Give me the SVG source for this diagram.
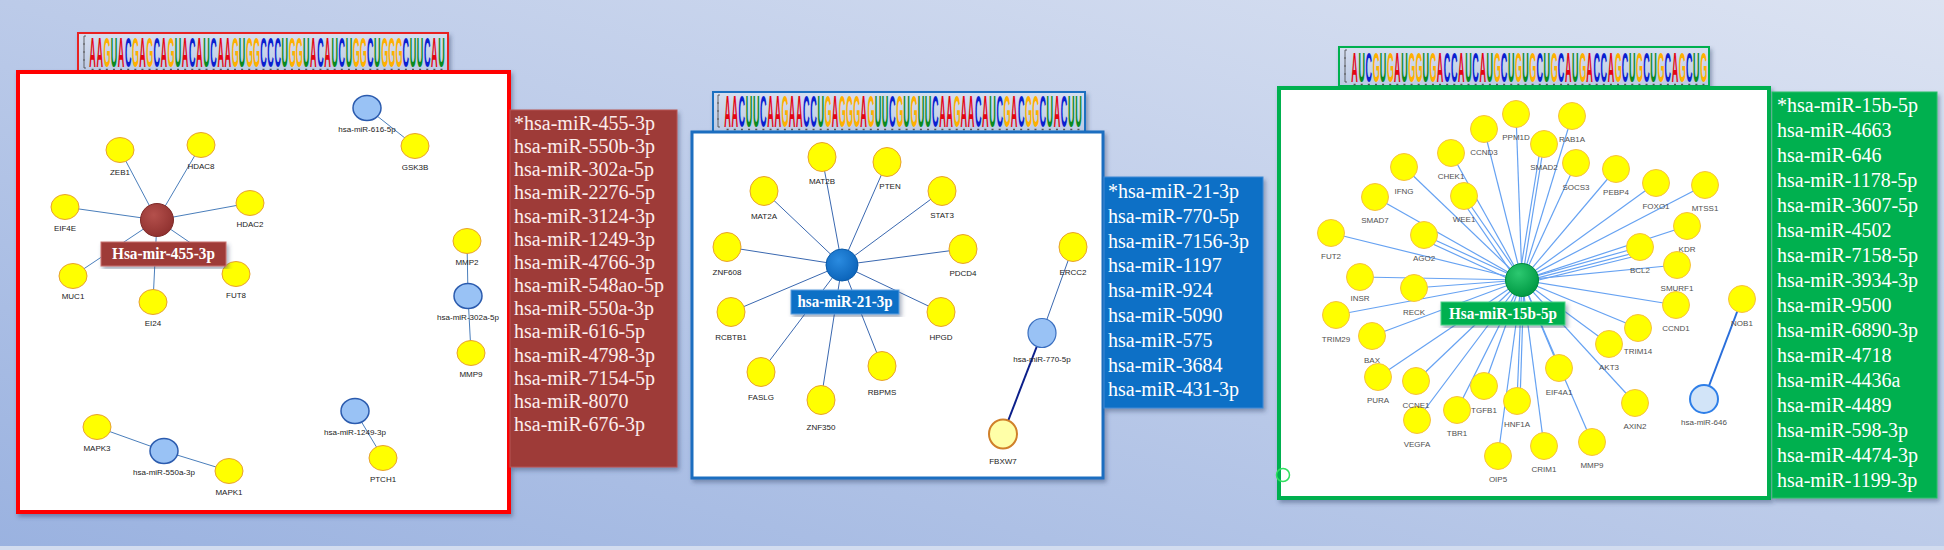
<svg xmlns="http://www.w3.org/2000/svg" width="1944" height="550" viewBox="0 0 1944 550">
<defs>
<linearGradient id="bg" x1="0" y1="1" x2="1" y2="0">
<stop offset="0" stop-color="#9AB2E0"/>
<stop offset="0.5" stop-color="#BCCBE9"/>
<stop offset="1" stop-color="#DCE3F2"/>
</linearGradient>
<linearGradient id="logobg" x1="0" y1="0" x2="0" y2="1">
<stop offset="0" stop-color="#D6DFF0"/>
<stop offset="1" stop-color="#BCCAE4"/>
</linearGradient>
<radialGradient id="gRed" cx="0.4" cy="0.35" r="0.7">
<stop offset="0" stop-color="#B4504C"/><stop offset="1" stop-color="#8E302E"/>
</radialGradient>
<radialGradient id="gBlue" cx="0.4" cy="0.35" r="0.7">
<stop offset="0" stop-color="#2A8BE0"/><stop offset="1" stop-color="#0A62B8"/>
</radialGradient>
<radialGradient id="gGreen" cx="0.4" cy="0.3" r="0.7">
<stop offset="0" stop-color="#2CC870"/><stop offset="1" stop-color="#009A44"/>
</radialGradient>
<filter id="sh" x="-5%" y="-5%" width="115%" height="115%">
<feDropShadow dx="2" dy="3" stdDeviation="2" flood-color="#34466A" flood-opacity="0.45"/>
</filter>
<style>
.nl{font-family:"Liberation Sans",Arial,sans-serif;font-size:8px;fill:#222;text-anchor:middle}
.ng{font-family:"Liberation Sans",Arial,sans-serif;font-size:8px;fill:#505050;text-anchor:middle}
.y{fill:#FFFF00;stroke:#E8A030;stroke-width:1}
.yg{fill:#FFFF00;stroke:#F7C040;stroke-width:1}
.mb{fill:#99C2F5;stroke:#2B5BAE;stroke-width:1.5}
.list{font-family:"Liberation Serif","Times New Roman",serif;font-size:20px;fill:#FFFFFF}
.lbl{font-family:"Liberation Serif","Times New Roman",serif;font-size:16px;font-weight:bold;fill:#FFFFFF;text-anchor:middle}
.er{stroke:#4A7EBB;stroke-width:1}
.eb{stroke:#3A68B0;stroke-width:1}
.eg{stroke:#66A2F2;stroke-width:1.2}
.logo{font-family:"Liberation Sans",Arial,sans-serif;font-weight:bold;font-size:14px}
.A{fill:#E30613}.C{fill:#0A1ED0}.G{fill:#FFB000}.U{fill:#0A8A1E}
.tick{stroke:#555;stroke-width:1.5}
.ax{fill:none;stroke:#444;stroke-width:0.8}
</style>
</defs>

<rect x="0" y="0" width="1944" height="550" fill="url(#bg)"/>
<rect x="0" y="546" width="1944" height="4" fill="#D2DCEF"/>

<!-- ============ PANEL 1 (red) ============ -->
<g id="logo1">
<rect x="78" y="33" width="370" height="39" fill="url(#logobg)" stroke="#E82020" stroke-width="2" filter="url(#sh)"/>
<path class="ax" d="M86 36 h-2 v32 h2 M83 44 h2 M83 52 h2 M83 60 h2"/>
<text class="logo" transform="translate(89.3,67) scale(0.6473,3)" y="0"><tspan class="A" x="0 11">AA</tspan><tspan class="G" x="22">G</tspan><tspan class="U" x="33">U</tspan><tspan class="A" x="44">A</tspan><tspan class="C" x="55">C</tspan><tspan class="G" x="66">G</tspan><tspan class="A" x="77">A</tspan><tspan class="G" x="88">G</tspan><tspan class="C" x="99">C</tspan><tspan class="A" x="110">A</tspan><tspan class="G" x="121">G</tspan><tspan class="U" x="132">U</tspan><tspan class="A" x="143">A</tspan><tspan class="C" x="154">C</tspan><tspan class="A" x="165">A</tspan><tspan class="U" x="176">U</tspan><tspan class="C" x="187">C</tspan><tspan class="A" x="198 209">AA</tspan><tspan class="G" x="220">G</tspan><tspan class="U" x="231">U</tspan><tspan class="G" x="242 253">GG</tspan><tspan class="C" x="264 275 286">CCC</tspan><tspan class="U" x="297">U</tspan><tspan class="G" x="308 319">GG</tspan><tspan class="U" x="330">U</tspan><tspan class="A" x="341">A</tspan><tspan class="C" x="352">C</tspan><tspan class="A" x="363">A</tspan><tspan class="U" x="374">U</tspan><tspan class="C" x="385">C</tspan><tspan class="U" x="396">U</tspan><tspan class="G" x="407 418">GG</tspan><tspan class="C" x="429">C</tspan><tspan class="U" x="440">U</tspan><tspan class="G" x="451 462 473">GGG</tspan><tspan class="C" x="484">C</tspan><tspan class="U" x="495 506">UU</tspan><tspan class="C" x="517">C</tspan><tspan class="A" x="528">A</tspan><tspan class="U" x="539">U</tspan></text>
<line class="tick" x1="91.6" y1="69.5" x2="445" y2="69.5" stroke-dasharray="2 5.12"/>
</g>

<rect x="18" y="72" width="491" height="440" fill="#FFFFFF" stroke="#FF0000" stroke-width="4" filter="url(#sh)"/>

<g id="connectors1">
<line class="er" x1="157" y1="220" x2="120" y2="150"/>
<line class="er" x1="157" y1="220" x2="201" y2="145"/>
<line class="er" x1="157" y1="220" x2="65" y2="207"/>
<line class="er" x1="157" y1="220" x2="250" y2="203"/>
<line class="er" x1="157" y1="220" x2="73" y2="276"/>
<line class="er" x1="157" y1="220" x2="236" y2="274"/>
<line class="er" x1="157" y1="220" x2="153" y2="302"/>
<line class="er" x1="367" y1="108" x2="415" y2="146"/>
<line class="er" x1="467" y1="241" x2="468" y2="296"/>
<line class="er" x1="468" y1="296" x2="471" y2="353"/>
<line class="er" x1="97" y1="427" x2="164" y2="451"/>
<line class="er" x1="164" y1="451" x2="229" y2="471"/>
<line class="er" x1="355" y1="411" x2="383" y2="458"/>
</g>

<g id="n-ZEB1"><ellipse class="y" cx="120" cy="150" rx="14" ry="12.5"/><text class="nl" x="120" y="175">ZEB1</text></g>
<g id="n-HDAC8"><ellipse class="y" cx="201" cy="145" rx="14" ry="12.5"/><text class="nl" x="201" y="169">HDAC8</text></g>
<g id="n-EIF4E"><ellipse class="y" cx="65" cy="207" rx="14" ry="12.5"/><text class="nl" x="65" y="231">EIF4E</text></g>
<g id="n-HDAC2"><ellipse class="y" cx="250" cy="203" rx="14" ry="12.5"/><text class="nl" x="250" y="227">HDAC2</text></g>
<g id="n-MUC1"><ellipse class="y" cx="73" cy="276" rx="14" ry="12.5"/><text class="nl" x="73" y="299">MUC1</text></g>
<g id="n-FUT8"><ellipse class="y" cx="236" cy="274" rx="14" ry="12.5"/><text class="nl" x="236" y="298">FUT8</text></g>
<g id="n-EI24"><ellipse class="y" cx="153" cy="302" rx="14" ry="12.5"/><text class="nl" x="153" y="326">EI24</text></g>
<g id="n-miR616"><ellipse class="mb" cx="367" cy="108" rx="14" ry="12.5"/><text class="nl" x="367" y="132">hsa-miR-616-5p</text></g>
<g id="n-GSK3B"><ellipse class="y" cx="415" cy="146" rx="14" ry="12.5"/><text class="nl" x="415" y="170">GSK3B</text></g>
<g id="n-MMP2"><ellipse class="y" cx="467" cy="241" rx="14" ry="12.5"/><text class="nl" x="467" y="265">MMP2</text></g>
<g id="n-miR302a"><ellipse class="mb" cx="468" cy="296" rx="14" ry="12.5"/><text class="nl" x="468" y="320">hsa-miR-302a-5p</text></g>
<g id="n-MMP9a"><ellipse class="y" cx="471" cy="353" rx="14" ry="12.5"/><text class="nl" x="471" y="377">MMP9</text></g>
<g id="n-MAPK3"><ellipse class="y" cx="97" cy="427" rx="14" ry="12.5"/><text class="nl" x="97" y="451">MAPK3</text></g>
<g id="n-miR550a"><ellipse class="mb" cx="164" cy="451" rx="14" ry="12.5"/><text class="nl" x="164" y="475">hsa-miR-550a-3p</text></g>
<g id="n-MAPK1"><ellipse class="y" cx="229" cy="471" rx="14" ry="12.5"/><text class="nl" x="229" y="495">MAPK1</text></g>
<g id="n-miR1249"><ellipse class="mb" cx="355" cy="411" rx="14" ry="12.5"/><text class="nl" x="355" y="435">hsa-miR-1249-3p</text></g>
<g id="n-PTCH1"><ellipse class="y" cx="383" cy="458" rx="14" ry="12.5"/><text class="nl" x="383" y="482">PTCH1</text></g>
<g id="n-miR455">
<circle cx="157" cy="220" r="16.5" fill="url(#gRed)" stroke="#7E2A28" stroke-width="1"/>
<rect x="101" y="242" width="125" height="24" fill="#9E3A38" stroke="#C8706C" stroke-width="1" filter="url(#sh)"/>
<text class="lbl" x="163.5" y="259" textLength="103" lengthAdjust="spacingAndGlyphs">Hsa-mir-455-3p</text>
</g>

<g id="list1">
<rect x="510" y="110" width="167" height="357" fill="#9E3A38" stroke="#B85450" stroke-width="1" filter="url(#sh)"/>
<text class="list" style="fill:#FCEDEC">
<tspan x="514" y="130">*hsa-miR-455-3p</tspan>
<tspan x="514" y="153">hsa-miR-550b-3p</tspan>
<tspan x="514" y="176">hsa-miR-302a-5p</tspan>
<tspan x="514" y="199">hsa-miR-2276-5p</tspan>
<tspan x="514" y="223">hsa-miR-3124-3p</tspan>
<tspan x="514" y="246">hsa-miR-1249-3p</tspan>
<tspan x="514" y="269">hsa-miR-4766-3p</tspan>
<tspan x="514" y="292">hsa-miR-548ao-5p</tspan>
<tspan x="514" y="315">hsa-miR-550a-3p</tspan>
<tspan x="514" y="338">hsa-miR-616-5p</tspan>
<tspan x="514" y="362">hsa-miR-4798-3p</tspan>
<tspan x="514" y="385">hsa-miR-7154-5p</tspan>
<tspan x="514" y="408">hsa-miR-8070</tspan>
<tspan x="514" y="431">hsa-miR-676-3p</tspan>
</text>
</g>

<!-- ============ PANEL 2 (blue) ============ -->
<g id="logo2">
<rect x="713" y="92" width="372" height="40" fill="url(#logobg)" stroke="#1F6FC0" stroke-width="2" filter="url(#sh)"/>
<path class="ax" d="M720 95 h-2 v32 h2 M717 103 h2 M717 111 h2 M717 119 h2"/>
<text class="logo" transform="translate(724.3,127) scale(0.651,3.2)" y="0"><tspan class="A" x="0 11">AA</tspan><tspan class="C" x="22">C</tspan><tspan class="U" x="33 44">UU</tspan><tspan class="C" x="55">C</tspan><tspan class="A" x="66 77">AA</tspan><tspan class="G" x="88">G</tspan><tspan class="A" x="99 110">AA</tspan><tspan class="C" x="121 132">CC</tspan><tspan class="U" x="143">U</tspan><tspan class="G" x="154">G</tspan><tspan class="A" x="165">A</tspan><tspan class="G" x="176 187 198">GGG</tspan><tspan class="A" x="209">A</tspan><tspan class="G" x="220">G</tspan><tspan class="U" x="231 242">UU</tspan><tspan class="C" x="253">C</tspan><tspan class="G" x="264">G</tspan><tspan class="U" x="275">U</tspan><tspan class="G" x="286">G</tspan><tspan class="U" x="297 308">UU</tspan><tspan class="C" x="319">C</tspan><tspan class="A" x="330 341">AA</tspan><tspan class="G" x="352">G</tspan><tspan class="A" x="363 374">AA</tspan><tspan class="C" x="385">C</tspan><tspan class="A" x="396">A</tspan><tspan class="U" x="407">U</tspan><tspan class="C" x="418">C</tspan><tspan class="G" x="429">G</tspan><tspan class="A" x="440">A</tspan><tspan class="C" x="451">C</tspan><tspan class="G" x="462 473">GG</tspan><tspan class="C" x="484">C</tspan><tspan class="U" x="495">U</tspan><tspan class="A" x="506">A</tspan><tspan class="C" x="517">C</tspan><tspan class="U" x="528 539">UU</tspan></text>
<line class="tick" x1="726.6" y1="129.5" x2="1082" y2="129.5" stroke-dasharray="2 5.16"/>
</g>

<rect x="692" y="132" width="411" height="346" fill="#FFFFFF" stroke="#1A6EC0" stroke-width="3" filter="url(#sh)"/>

<g id="connectors2">
<line class="eb" x1="842" y1="265" x2="822" y2="157"/>
<line class="eb" x1="842" y1="265" x2="887" y2="162"/>
<line class="eb" x1="842" y1="265" x2="764" y2="191"/>
<line class="eb" x1="842" y1="265" x2="942" y2="191"/>
<line class="eb" x1="842" y1="265" x2="727" y2="247"/>
<line class="eb" x1="842" y1="265" x2="963" y2="249"/>
<line class="eb" x1="842" y1="265" x2="731" y2="312"/>
<line class="eb" x1="842" y1="265" x2="941" y2="312"/>
<line class="eb" x1="842" y1="265" x2="761" y2="372"/>
<line class="eb" x1="842" y1="265" x2="821" y2="400"/>
<line class="eb" x1="842" y1="265" x2="882" y2="366"/>
<line class="eb" x1="1042" y1="333" x2="1073" y2="247"/>
<line x1="1042" y1="333" x2="1003" y2="434" stroke="#0B1F8A" stroke-width="2"/>
</g>

<g id="n-MAT2B"><ellipse class="y" cx="822" cy="157" rx="14" ry="14.5"/><text class="nl" x="822" y="184">MAT2B</text></g>
<g id="n-PTEN"><ellipse class="y" cx="887" cy="162" rx="14" ry="14.5"/><text class="nl" x="890" y="189">PTEN</text></g>
<g id="n-MAT2A"><ellipse class="y" cx="764" cy="191" rx="14" ry="14.5"/><text class="nl" x="764" y="219">MAT2A</text></g>
<g id="n-STAT3"><ellipse class="y" cx="942" cy="191" rx="14" ry="14.5"/><text class="nl" x="942" y="218">STAT3</text></g>
<g id="n-ZNF608"><ellipse class="y" cx="727" cy="247" rx="14" ry="14.5"/><text class="nl" x="727" y="275">ZNF608</text></g>
<g id="n-PDCD4"><ellipse class="y" cx="963" cy="249" rx="14" ry="14.5"/><text class="nl" x="963" y="276">PDCD4</text></g>
<g id="n-ERCC2"><ellipse class="y" cx="1073" cy="247" rx="14" ry="14.5"/><text class="nl" x="1073" y="275">ERCC2</text></g>
<g id="n-RCBTB1"><ellipse class="y" cx="731" cy="312" rx="14" ry="14.5"/><text class="nl" x="731" y="340">RCBTB1</text></g>
<g id="n-HPGD"><ellipse class="y" cx="941" cy="312" rx="14" ry="14.5"/><text class="nl" x="941" y="340">HPGD</text></g>
<g id="n-FASLG"><ellipse class="y" cx="761" cy="372" rx="14" ry="14.5"/><text class="nl" x="761" y="400">FASLG</text></g>
<g id="n-ZNF350"><ellipse class="y" cx="821" cy="400" rx="14" ry="14.5"/><text class="nl" x="821" y="430">ZNF350</text></g>
<g id="n-RBPMS"><ellipse class="y" cx="882" cy="366" rx="14" ry="14.5"/><text class="nl" x="882" y="395">RBPMS</text></g>
<g id="n-miR770"><ellipse cx="1042" cy="333" rx="14" ry="14.5" fill="#99C2F5" stroke="#3A6FC0" stroke-width="1.2"/><text class="nl" x="1042" y="362">hsa-miR-770-5p</text></g>
<g id="n-FBXW7"><ellipse cx="1003" cy="434" rx="14" ry="14.5" fill="#FFFFA8" stroke="#D0802A" stroke-width="2"/><text class="nl" x="1003" y="464">FBXW7</text></g>
<g id="n-miR21">
<circle cx="842" cy="265" r="16" fill="url(#gBlue)" stroke="#0A5AA8" stroke-width="1"/>
<rect x="791" y="290" width="108" height="24" fill="#0F6FC6" stroke="#5FA0E0" stroke-width="1" filter="url(#sh)"/>
<text class="lbl" x="845" y="307" textLength="95" lengthAdjust="spacingAndGlyphs">hsa-miR-21-3p</text>
</g>

<g id="list2">
<rect x="1104" y="177" width="159" height="231" fill="#0F6FC6" stroke="#3D8AD6" stroke-width="1" filter="url(#sh)"/>
<text class="list">
<tspan x="1108" y="198">*hsa-miR-21-3p</tspan>
<tspan x="1108" y="223">hsa-miR-770-5p</tspan>
<tspan x="1108" y="248">hsa-miR-7156-3p</tspan>
<tspan x="1108" y="272">hsa-miR-1197</tspan>
<tspan x="1108" y="297">hsa-miR-924</tspan>
<tspan x="1108" y="322">hsa-miR-5090</tspan>
<tspan x="1108" y="347">hsa-miR-575</tspan>
<tspan x="1108" y="372">hsa-miR-3684</tspan>
<tspan x="1108" y="396">hsa-miR-431-3p</tspan>
</text>
</g>

<!-- ============ PANEL 3 (green) ============ -->
<g id="logo3">
<rect x="1339" y="47" width="370" height="39" fill="url(#logobg)" stroke="#00B050" stroke-width="2" filter="url(#sh)"/>
<path class="ax" d="M1347 50 h-2 v32 h2 M1344 58 h2 M1344 66 h2 M1344 74 h2"/>
<text class="logo" transform="translate(1351.3,82) scale(0.6473,3)" y="0"><tspan class="A" x="0">A</tspan><tspan class="U" x="11">U</tspan><tspan class="C" x="22">C</tspan><tspan class="G" x="33">G</tspan><tspan class="U" x="44">U</tspan><tspan class="G" x="55">G</tspan><tspan class="A" x="66">A</tspan><tspan class="U" x="77">U</tspan><tspan class="G" x="88 99">GG</tspan><tspan class="U" x="110">U</tspan><tspan class="G" x="121">G</tspan><tspan class="A" x="132">A</tspan><tspan class="C" x="143 154">CC</tspan><tspan class="A" x="165">A</tspan><tspan class="U" x="176">U</tspan><tspan class="C" x="187">C</tspan><tspan class="A" x="198">A</tspan><tspan class="U" x="209">U</tspan><tspan class="G" x="220">G</tspan><tspan class="C" x="231">C</tspan><tspan class="U" x="242">U</tspan><tspan class="G" x="253">G</tspan><tspan class="U" x="264">U</tspan><tspan class="G" x="275">G</tspan><tspan class="C" x="286">C</tspan><tspan class="U" x="297">U</tspan><tspan class="G" x="308">G</tspan><tspan class="C" x="319">C</tspan><tspan class="A" x="330">A</tspan><tspan class="U" x="341">U</tspan><tspan class="G" x="352">G</tspan><tspan class="A" x="363">A</tspan><tspan class="C" x="374 385">CC</tspan><tspan class="A" x="396">A</tspan><tspan class="G" x="407">G</tspan><tspan class="C" x="418">C</tspan><tspan class="U" x="429">U</tspan><tspan class="G" x="440">G</tspan><tspan class="C" x="451">C</tspan><tspan class="U" x="462">U</tspan><tspan class="G" x="473">G</tspan><tspan class="C" x="484">C</tspan><tspan class="A" x="495">A</tspan><tspan class="G" x="506">G</tspan><tspan class="C" x="517">C</tspan><tspan class="U" x="528">U</tspan><tspan class="G" x="539">G</tspan></text>
<line class="tick" x1="1353.6" y1="84.5" x2="1707" y2="84.5" stroke-dasharray="2 5.12"/>
</g>

<rect x="1279" y="88" width="490" height="410" fill="#FFFFFF" stroke="#00B050" stroke-width="4" filter="url(#sh)"/>
<circle cx="1283" cy="475" r="6.5" fill="none" stroke="#30E060" stroke-width="1.5"/>

<g id="connectors3">
<line class="eg" x1="1522" y1="280" x2="1516" y2="114"/>
<line class="eg" x1="1522" y1="280" x2="1572" y2="116"/>
<line class="eg" x1="1522" y1="280" x2="1484" y2="129"/>
<line class="eg" x1="1522" y1="280" x2="1544" y2="144"/>
<line class="eg" x1="1519" y1="280" x2="1541" y2="144"/>
<line class="eg" x1="1522" y1="280" x2="1576" y2="163"/>
<line class="eg" x1="1522" y1="280" x2="1451" y2="153"/>
<line class="eg" x1="1522" y1="280" x2="1404" y2="167"/>
<line class="eg" x1="1522" y1="280" x2="1616" y2="169"/>
<line class="eg" x1="1522" y1="280" x2="1464" y2="196"/>
<line class="eg" x1="1518" y1="282" x2="1461" y2="199"/>
<line class="eg" x1="1522" y1="280" x2="1656" y2="183"/>
<line class="eg" x1="1522" y1="280" x2="1705" y2="185"/>
<line class="eg" x1="1522" y1="280" x2="1375" y2="197"/>
<line class="eg" x1="1522" y1="280" x2="1424" y2="235"/>
<line class="eg" x1="1520" y1="284" x2="1424" y2="240"/>
<line class="eg" x1="1522" y1="280" x2="1331" y2="233"/>
<line class="eg" x1="1522" y1="280" x2="1640" y2="247"/>
<line class="eg" x1="1522" y1="282" x2="1638" y2="252"/>
<line class="eg" x1="1522" y1="284" x2="1640" y2="255"/>
<line class="eg" x1="1522" y1="280" x2="1687" y2="226"/>
<line class="eg" x1="1522" y1="280" x2="1677" y2="265"/>
<line class="eg" x1="1522" y1="280" x2="1676" y2="305"/>
<line class="eg" x1="1522" y1="280" x2="1360" y2="277"/>
<line class="eg" x1="1522" y1="280" x2="1414" y2="288"/>
<line class="eg" x1="1522" y1="280" x2="1336" y2="315"/>
<line class="eg" x1="1522" y1="280" x2="1372" y2="336"/>
<line class="eg" x1="1522" y1="280" x2="1378" y2="377"/>
<line class="eg" x1="1522" y1="280" x2="1416" y2="381"/>
<line class="eg" x1="1522" y1="280" x2="1417" y2="420"/>
<line class="eg" x1="1522" y1="280" x2="1457" y2="410"/>
<line class="eg" x1="1522" y1="280" x2="1484" y2="386"/>
<line class="eg" x1="1522" y1="280" x2="1517" y2="401"/>
<line class="eg" x1="1524" y1="280" x2="1520" y2="401"/>
<line class="eg" x1="1522" y1="280" x2="1498" y2="456"/>
<line class="eg" x1="1522" y1="280" x2="1544" y2="446"/>
<line class="eg" x1="1522" y1="280" x2="1559" y2="368"/>
<line class="eg" x1="1522" y1="280" x2="1592" y2="442"/>
<line class="eg" x1="1522" y1="280" x2="1609" y2="344"/>
<line class="eg" x1="1522" y1="280" x2="1638" y2="328"/>
<line class="eg" x1="1522" y1="280" x2="1635" y2="403"/>
<line x1="1742" y1="299" x2="1704" y2="399" stroke="#2A6FDB" stroke-width="2"/>
</g>

<g id="n-PPM1D"><circle class="yg" cx="1516" cy="114" r="13.5"/><text class="ng" x="1516" y="140">PPM1D</text></g>
<g id="n-RAB1A"><circle class="yg" cx="1572" cy="116" r="13.5"/><text class="ng" x="1572" y="142">RAB1A</text></g>
<g id="n-CCND3"><circle class="yg" cx="1484" cy="129" r="13.5"/><text class="ng" x="1484" y="155">CCND3</text></g>
<g id="n-SMAD2"><circle class="yg" cx="1544" cy="144" r="13.5"/><text class="ng" x="1544" y="170">SMAD2</text></g>
<g id="n-SOCS3"><circle class="yg" cx="1576" cy="163" r="13.5"/><text class="ng" x="1576" y="190">SOCS3</text></g>
<g id="n-CHEK1"><circle class="yg" cx="1451" cy="153" r="13.5"/><text class="ng" x="1451" y="179">CHEK1</text></g>
<g id="n-IFNG"><circle class="yg" cx="1404" cy="167" r="13.5"/><text class="ng" x="1404" y="194">IFNG</text></g>
<g id="n-PEBP4"><circle class="yg" cx="1616" cy="169" r="13.5"/><text class="ng" x="1616" y="195">PEBP4</text></g>
<g id="n-WEE1"><circle class="yg" cx="1464" cy="196" r="13.5"/><text class="ng" x="1464" y="222">WEE1</text></g>
<g id="n-FOXO1"><circle class="yg" cx="1656" cy="183" r="13.5"/><text class="ng" x="1656" y="209">FOXO1</text></g>
<g id="n-MTSS1"><circle class="yg" cx="1705" cy="185" r="13.5"/><text class="ng" x="1705" y="211">MTSS1</text></g>
<g id="n-SMAD7"><circle class="yg" cx="1375" cy="197" r="13.5"/><text class="ng" x="1375" y="223">SMAD7</text></g>
<g id="n-AGO2"><circle class="yg" cx="1424" cy="235" r="13.5"/><text class="ng" x="1424" y="261">AGO2</text></g>
<g id="n-FUT2"><circle class="yg" cx="1331" cy="233" r="13.5"/><text class="ng" x="1331" y="259">FUT2</text></g>
<g id="n-BCL2"><circle class="yg" cx="1640" cy="247" r="13.5"/><text class="ng" x="1640" y="273">BCL2</text></g>
<g id="n-KDR"><circle class="yg" cx="1687" cy="226" r="13.5"/><text class="ng" x="1687" y="252">KDR</text></g>
<g id="n-SMURF1"><circle class="yg" cx="1677" cy="265" r="13.5"/><text class="ng" x="1677" y="291">SMURF1</text></g>
<g id="n-CCND1"><circle class="yg" cx="1676" cy="305" r="13.5"/><text class="ng" x="1676" y="331">CCND1</text></g>
<g id="n-NOB1"><circle class="yg" cx="1742" cy="299" r="13.5"/><text class="ng" x="1742" y="326">NOB1</text></g>
<g id="n-miR646"><circle cx="1704" cy="399" r="14" fill="#D2E4F8" stroke="#2F7FE8" stroke-width="2"/><text class="ng" x="1704" y="425">hsa-miR-646</text></g>
<g id="n-INSR"><circle class="yg" cx="1360" cy="277" r="13.5"/><text class="ng" x="1360" y="301">INSR</text></g>
<g id="n-RECK"><circle class="yg" cx="1414" cy="288" r="13.5"/><text class="ng" x="1414" y="315">RECK</text></g>
<g id="n-TRIM29"><circle class="yg" cx="1336" cy="315" r="13.5"/><text class="ng" x="1336" y="342">TRIM29</text></g>
<g id="n-BAX"><circle class="yg" cx="1372" cy="336" r="13.5"/><text class="ng" x="1372" y="363">BAX</text></g>
<g id="n-PURA"><circle class="yg" cx="1378" cy="377" r="13.5"/><text class="ng" x="1378" y="403">PURA</text></g>
<g id="n-VEGFA"><circle class="yg" cx="1417" cy="420" r="13.5"/><text class="ng" x="1417" y="447">VEGFA</text></g>
<g id="n-CCNE1"><circle class="yg" cx="1416" cy="381" r="13.5"/><text class="ng" x="1416" y="408">CCNE1</text></g>
<g id="n-TBR1"><circle class="yg" cx="1457" cy="410" r="13.5"/><text class="ng" x="1457" y="436">TBR1</text></g>
<g id="n-TGFB1"><circle class="yg" cx="1484" cy="386" r="13.5"/><text class="ng" x="1484" y="413">TGFB1</text></g>
<g id="n-HNF1A"><circle class="yg" cx="1517" cy="401" r="13.5"/><text class="ng" x="1517" y="427">HNF1A</text></g>
<g id="n-OIP5"><circle class="yg" cx="1498" cy="456" r="13.5"/><text class="ng" x="1498" y="482">OIP5</text></g>
<g id="n-CRIM1"><circle class="yg" cx="1544" cy="446" r="13.5"/><text class="ng" x="1544" y="472">CRIM1</text></g>
<g id="n-EIF4A1"><circle class="yg" cx="1559" cy="368" r="13.5"/><text class="ng" x="1559" y="395">EIF4A1</text></g>
<g id="n-MMP9b"><circle class="yg" cx="1592" cy="442" r="13.5"/><text class="ng" x="1592" y="468">MMP9</text></g>
<g id="n-AKT3"><circle class="yg" cx="1609" cy="344" r="13.5"/><text class="ng" x="1609" y="370">AKT3</text></g>
<g id="n-TRIM14"><circle class="yg" cx="1638" cy="328" r="13.5"/><text class="ng" x="1638" y="354">TRIM14</text></g>
<g id="n-AXIN2"><circle class="yg" cx="1635" cy="403" r="13.5"/><text class="ng" x="1635" y="429">AXIN2</text></g>
<g id="n-miR15b">
<circle cx="1522" cy="280" r="16.5" fill="url(#gGreen)" stroke="#008A3C" stroke-width="1"/>
<rect x="1441" y="302" width="124" height="23" fill="#00B050" stroke="#50D088" stroke-width="1" filter="url(#sh)"/>
<text class="lbl" x="1503" y="319" textLength="108" lengthAdjust="spacingAndGlyphs">Hsa-miR-15b-5p</text>
</g>

<g id="list3">
<rect x="1772" y="92" width="165" height="406" fill="#00B050" stroke="#2AC068" stroke-width="1" filter="url(#sh)"/>
<text class="list">
<tspan x="1777" y="112">*hsa-miR-15b-5p</tspan>
<tspan x="1777" y="137">hsa-miR-4663</tspan>
<tspan x="1777" y="162">hsa-miR-646</tspan>
<tspan x="1777" y="187">hsa-miR-1178-5p</tspan>
<tspan x="1777" y="212">hsa-miR-3607-5p</tspan>
<tspan x="1777" y="237">hsa-miR-4502</tspan>
<tspan x="1777" y="262">hsa-miR-7158-5p</tspan>
<tspan x="1777" y="287">hsa-miR-3934-3p</tspan>
<tspan x="1777" y="312">hsa-miR-9500</tspan>
<tspan x="1777" y="337">hsa-miR-6890-3p</tspan>
<tspan x="1777" y="362">hsa-miR-4718</tspan>
<tspan x="1777" y="387">hsa-miR-4436a</tspan>
<tspan x="1777" y="412">hsa-miR-4489</tspan>
<tspan x="1777" y="437">hsa-miR-598-3p</tspan>
<tspan x="1777" y="462">hsa-miR-4474-3p</tspan>
<tspan x="1777" y="487">hsa-miR-1199-3p</tspan>
</text>
</g>
</svg>
